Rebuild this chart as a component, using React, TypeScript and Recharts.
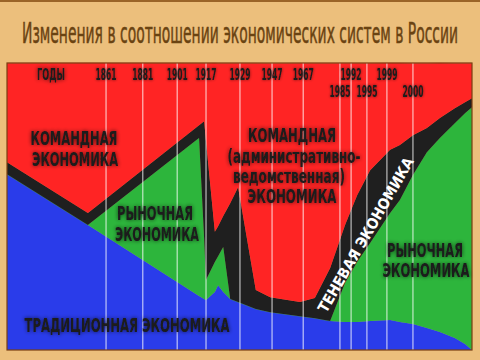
import { AreaChart, Area, XAxis, YAxis, ReferenceLine } from 'recharts';

// schematic position along the timeline (0 = left edge, 100 = right edge)
const positions = [0, 17.4, 41.3, 42.4, 42.8, 44.7, 45.4, 46.5, 48.0, 49.7, 53.5, 56.6, 63.0, 66.2, 69.5, 72.7, 75.3, 78.1, 82.4, 84.5, 87.3, 90.3, 93.1, 96.3, 98.5, 100];
// shares of each economic system, %
const traditional = [61.3, 43.6, 18.8, 17.8, 17.4, 20.2, 22.6, 20.2, 17.8, 16.7, 14.3, 13.2, 11.8, 11.1, 10.1, 9.8, 9.8, 10.1, 10.5, 9.8, 9.1, 7.7, 6.3, 4.2, 2.1, 0];
const market = [0, 0, 55.1, 20.9, 7.0, 10.5, 10.1, 15.7, 0, 0, 0, 0, 0, 0, 0, 13.6, 20.9, 27.2, 37.3, 42.5, 51.9, 61.3, 67.6, 74.9, 80.5, 84.7];
const shadow = [4.2, 4.2, 4.5, 41.1, 48.4, 10.5, 10.5, 10.8, 33.4, 40.1, 6.6, 5.2, 4.9, 7.0, 18.5, 20.2, 23.3, 25.4, 22.0, 19.2, 13.9, 8.4, 7.0, 5.2, 3.8, 3.1];
const command = [34.5, 52.3, 21.6, 20.2, 27.2, 58.9, 56.8, 53.3, 48.8, 43.2, 79.1, 81.5, 83.3, 81.9, 71.4, 56.4, 46.0, 37.3, 30.3, 28.6, 25.1, 22.6, 19.2, 15.7, 13.6, 12.2];

const years = ['1861', '1881', '1901', '1917', '1929', '1947', '1967', '1985', '1992', '1995', '1999', '2000'];
const yearPos = [21.3, 29.2, 36.6, 42.8, 50.1, 57.0, 63.7, 71.6, 74.0, 77.4, 81.7, 87.3];
const yearRow = [0, 0, 0, 0, 0, 0, 0, 1, 0, 1, 0, 1];

const data = positions.map((pos, i) => ({
  pos,
  traditional: traditional[i],
  market: market[i],
  shadow: shadow[i],
  command: command[i],
}));

const FONT = "'Liberation Sans Narrow', 'DejaVu Sans Condensed', 'Liberation Sans', sans-serif";
const INK = '#1b1b1b';

const yearLabel = (text: string, row: number) => (props: any) => {
  const vb = props.viewBox || {};
  return (
    <text
      x={vb.x}
      y={(vb.y ?? 63) + (row ? 34 : 17)}
      textAnchor="middle"
      fontFamily={FONT}
      fontWeight="bold"
      fontSize={16}
      fill={INK}
      textLength={21}
      lengthAdjust="spacingAndGlyphs"
      filter="url(#haloSoft)"
    >
      {text}
    </text>
  );
};

const Lbl = ({ x, y, w, children }: { x: number; y: number; w: number; children: string }) => (
  <text
    x={x}
    y={y}
    textAnchor="middle"
    fontFamily={FONT}
    fontWeight="bold"
    fontSize={20}
    fill={INK}
    textLength={w}
    lengthAdjust="spacingAndGlyphs"
    filter="url(#halo)"
  >
    {children}
  </text>
);

const haloFilter = (id: string, sd: number, a: number) => (
  <filter id={id} x="-20%" y="-60%" width="140%" height="220%">
    <feGaussianBlur in="SourceAlpha" stdDeviation={sd} result="b" />
    <feComponentTransfer in="b" result="b2">
      <feFuncA type="linear" slope={a} />
    </feComponentTransfer>
    <feMerge>
      <feMergeNode in="b2" />
      <feMergeNode in="SourceGraphic" />
    </feMerge>
  </filter>
);

export default function App() {
  return (
    <div style={{ position: 'absolute', left: 0, top: 0, width: 480, height: 360, background: '#ECBF7C' }}>
      <AreaChart width={480} height={360} data={data} margin={{ top: 63, right: 8, bottom: 10, left: 7 }}>
        <defs>{haloFilter('haloSoft', 1.5, 0.6)}</defs>
        <XAxis type="number" dataKey="pos" domain={[0, 100]} hide />
        <YAxis type="number" domain={[0, 100]} hide />
        <Area type="linear" dataKey="traditional" stackId="1" fill="#2A3CEA" stroke="#2A3CEA" strokeWidth={0.5} fillOpacity={1} isAnimationActive={false} />
        <Area type="linear" dataKey="market" stackId="1" fill="#2DB53C" stroke="#2DB53C" strokeWidth={0.5} fillOpacity={1} isAnimationActive={false} />
        <Area type="linear" dataKey="shadow" stackId="1" fill="#1f1f1f" stroke="#1f1f1f" strokeWidth={0.5} fillOpacity={1} isAnimationActive={false} />
        <Area type="linear" dataKey="command" stackId="1" fill="#FF2424" stroke="#FF2424" strokeWidth={0.5} fillOpacity={1} isAnimationActive={false} />
        {years.map((y, i) => (
          <ReferenceLine key={y} x={yearPos[i]} stroke="rgba(255,255,255,0.7)" strokeWidth={1.2} label={yearLabel(y, yearRow[i])} />
        ))}
      </AreaChart>
      <svg width={480} height={360} style={{ position: 'absolute', left: 0, top: 0, pointerEvents: 'none' }}>
        <defs>{haloFilter('halo', 2.2, 0.7)}</defs>
        <line x1={0} y1={1} x2={480} y2={1} stroke="#9a6428" strokeWidth={2} />
        <text x={240} y={43} textAnchor="middle" fontFamily={FONT} fontSize={28} fill="#6a4312" stroke="#6a4312" strokeWidth={0.5} textLength={436} lengthAdjust="spacingAndGlyphs">
          Изменения в соотношении экономических систем в России
        </text>
        <rect x={7} y={63} width={465} height={287} fill="none" stroke="#7a3f12" strokeWidth={1.2} />
        <text x={51} y={80} textAnchor="middle" fontFamily={FONT} fontWeight="bold" fontSize={16} fill={INK} textLength={28} lengthAdjust="spacingAndGlyphs" filter="url(#halo)">ГОДЫ</text>
        <Lbl x={74} y={145} w={87}>КОМАНДНАЯ</Lbl>
        <Lbl x={75} y={166} w={86}>ЭКОНОМИКА</Lbl>
        <Lbl x={155} y={220} w={76}>РЫНОЧНАЯ</Lbl>
        <Lbl x={157} y={241} w={84}>ЭКОНОМИКА</Lbl>
        <Lbl x={292} y={142} w={88}>КОМАНДНАЯ</Lbl>
        <Lbl x={294} y={163} w={133}>(административно-</Lbl>
        <Lbl x={289} y={183} w={112}>ведомственная)</Lbl>
        <Lbl x={292} y={203} w={89}>ЭКОНОМИКА</Lbl>
        <Lbl x={425} y={257} w={76}>РЫНОЧНАЯ</Lbl>
        <Lbl x={426} y={277} w={87}>ЭКОНОМИКА</Lbl>
        <Lbl x={127} y={332} w={205}>ТРАДИЦИОННАЯ  ЭКОНОМИКА</Lbl>
        <text
          x={366}
          y={235}
          textAnchor="middle"
          dominantBaseline="central"
          transform="rotate(-60 366 235)"
          fontFamily={FONT}
          fontWeight="bold"
          fontSize={15}
          fill="#ffffff"
          textLength={176}
          lengthAdjust="spacingAndGlyphs"
        >
          ТЕНЕВАЯ ЭКОНОМИКА
        </text>
      </svg>
    </div>
  );
}
